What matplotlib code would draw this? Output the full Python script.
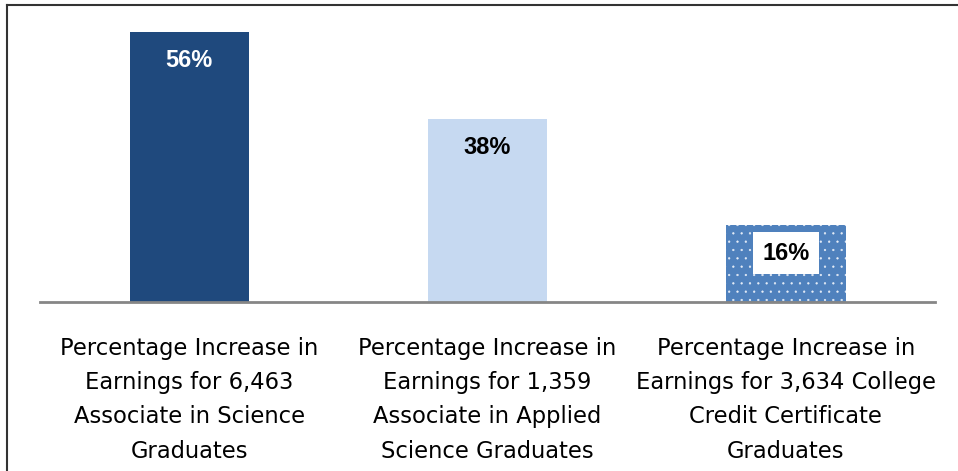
import matplotlib
matplotlib.use('Agg')
import matplotlib.pyplot as plt
from matplotlib.lines import Line2D

# Chart data
categories = [
    'Percentage Increase in\nEarnings for 6,463\nAssociate in Science\nGraduates',
    'Percentage Increase in\nEarnings for 1,359\nAssociate in Applied\nScience Graduates',
    'Percentage Increase in\nEarnings for 3,634 College\nCredit Certificate\nGraduates',
]
values = [56, 38, 16]
value_labels = ['56%', '38%', '16%']

bar_colors = ['#1f497d', '#c6d9f1', '#4f81bd']
label_colors = ['white', 'black', 'black']

plt.rcParams['hatch.color'] = '#e6edf7'
plt.rcParams['hatch.linewidth'] = 0.4

fig = plt.figure(figsize=(9.58, 4.71), dpi=100)
ax = fig.add_axes([40 / 958, 169 / 471, 895 / 958, 289 / 471])

x = list(range(len(values)))
bars = ax.bar(x, values, width=0.40, color=bar_colors, linewidth=0, zorder=2)
# dotted pattern on the third bar
bars[2].set_hatch('..')
bars[2].set_edgecolor('#e6edf7')

ax.set_xlim(-0.5, 2.5)
ax.set_ylim(0, 60)

# Value labels inside the bars
for i, (v, lab) in enumerate(zip(values, value_labels)):
    kw = {}
    if i == 2:
        kw['bbox'] = dict(boxstyle='square,pad=0.4', facecolor='white', edgecolor='none')
    ax.annotate(lab, xy=(i, v), xytext=(0, -20.5), textcoords='offset points',
                ha='center', va='center', fontsize=17, fontweight='bold',
                color=label_colors[i], family=['Liberation Sans', 'DejaVu Sans'],
                zorder=3, **kw)

ax.set_xticks(x)
ax.set_xticklabels(categories, fontsize=16.3, linespacing=1.63,
                   family=['DejaVu Sans'])
ax.tick_params(axis='x', length=0, pad=25)
ax.set_yticks([])

for s in ['top', 'right', 'left']:
    ax.spines[s].set_visible(False)
ax.spines['bottom'].set_color('#868686')
ax.spines['bottom'].set_linewidth(2)
ax.spines['bottom'].set_zorder(3)

# Outer frame (top and left edges)
fig.add_artist(Line2D([7 / 958, 1], [1 - 5 / 471, 1 - 5 / 471],
                      transform=fig.transFigure, color='#333333', linewidth=1.5))
fig.add_artist(Line2D([7 / 958, 7 / 958], [0, 1 - 5 / 471],
                      transform=fig.transFigure, color='#333333', linewidth=1.5))

plt.savefig('out.png', dpi=100)
